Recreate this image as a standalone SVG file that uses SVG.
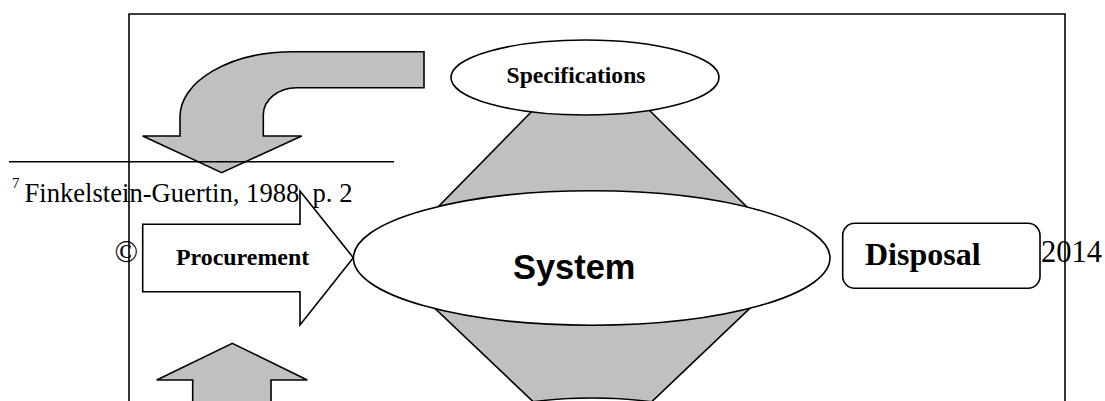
<svg xmlns="http://www.w3.org/2000/svg" width="1105" height="401" viewBox="0 0 1105 401">
  <style>
    .ln { fill: none; stroke: #000; stroke-width: 1.6; }
    .gray { fill: #C0C0C0; stroke: #000; stroke-width: 1.6; stroke-linejoin: miter; }
    .wht { fill: #FFFFFF; stroke: #000; stroke-width: 1.6; }
    .serif { font-family: "Liberation Serif", "Times New Roman", serif; fill: #000; }
    .bserif { font-family: "Liberation Serif", "Times New Roman", serif; font-weight: bold; fill: #000; }
    .bsans { font-family: "Liberation Sans", Arial, sans-serif; font-weight: bold; fill: #000; }
  </style>
  <rect width="1105" height="401" fill="#FFFFFF"/>

  <g id="page-text">
    <text class="serif" x="12" y="188" font-size="15">7</text>
    <text class="serif" x="24.5" y="201.7" font-size="26.6">Finkelstein-Guertin, 1988, p. 2</text>
    <text class="serif" x="114.5" y="262" font-size="31">©</text>
    <text class="serif" x="1041" y="261.7" font-size="30.5">2014</text>
  </g>

  <g id="connectors">
    <polygon id="hexagon" class="gray" points="538,105 644,105 800.6,260 622,430 563,430 385,261"/>
    <path id="bent-arrow" class="gray" d="M424,51.7 L293,51.7 A113,65 0 0 0 180,117 L180,136 L142.7,136 L221.7,172.7 L301.7,136 L263.3,136 L263.3,115 A33.4,27.3 0 0 1 296.7,87.7 L424,87.7 Z"/>
    <path id="up-arrow" class="gray" d="M192.7,420 L192.7,380 L156.7,380 L232.3,343.3 L307.3,380 L271,380 L271,420"/>
  </g>

  <g id="specifications">
    <ellipse class="wht" cx="585" cy="77.5" rx="134" ry="37.5"/>
    <text class="bserif" x="576" y="83.3" font-size="23.6" text-anchor="middle">Specifications</text>
  </g>

  <g id="bottom-node">
    <ellipse class="wht" cx="592" cy="435.5" rx="134" ry="37.5"/>
  </g>

  <g id="procurement">
    <path class="wht" d="M142.7,224.3 L300,224.3 L300,191 L353.3,257.7 L300,325 L300,291.7 L142.7,291.7 Z"/>
    <text class="bserif" x="176" y="265" font-size="23.9">Procurement</text>
  </g>

  <g id="system">
    <ellipse class="wht" cx="591.7" cy="258" rx="238.3" ry="67.2"/>
    <text class="bsans" x="513" y="279.3" font-size="34.4">System</text>
  </g>

  <g id="disposal">
    <rect class="wht" x="842.7" y="223.3" width="197.3" height="65" rx="12" ry="12"/>
    <text class="bserif" x="865" y="265" font-size="32">Disposal</text>
  </g>

  <g id="frame">
    <path class="ln" d="M129,420 V14 H1065 V420"/>
    <line class="ln" x1="9" y1="161.7" x2="394" y2="161.7"/>
  </g>
</svg>
